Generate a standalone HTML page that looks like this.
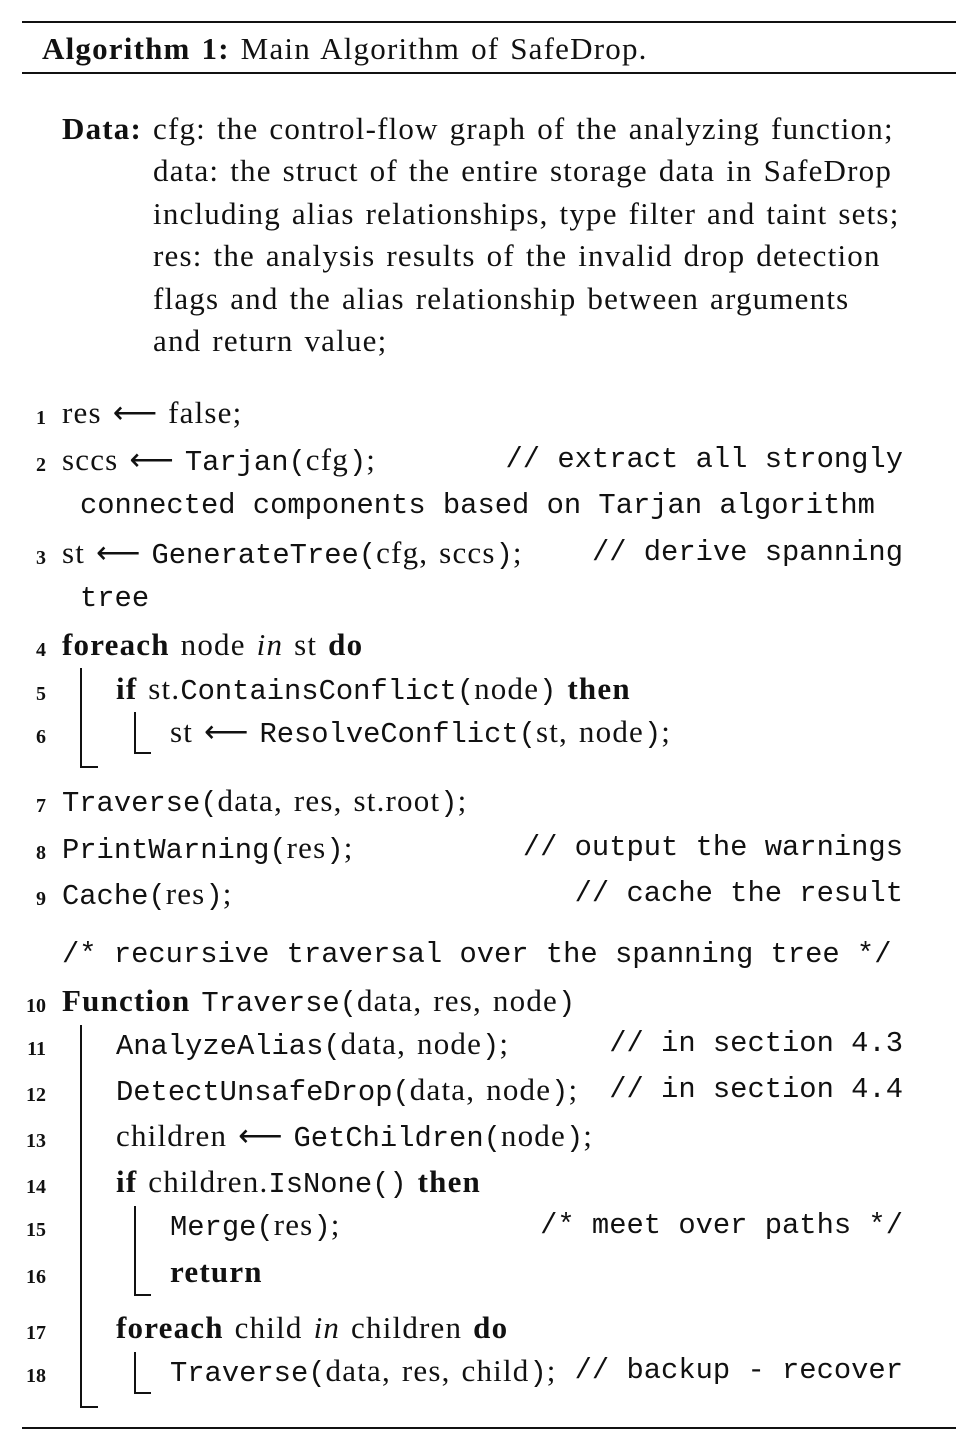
<!DOCTYPE html>
<html><head><meta charset="utf-8"><style>
body{margin:0;width:966px;height:1448px;background:#fff;position:relative;overflow:hidden;color:#111}
.l{position:absolute;white-space:pre;font-family:"Liberation Serif",serif;font-size:31px;line-height:1;letter-spacing:1.2px;word-spacing:2px;margin-top:3px}
.m{font-family:"Liberation Mono",monospace;font-size:28.8px;letter-spacing:0;word-spacing:0}
.a{letter-spacing:0;word-spacing:0}
.n{position:absolute;font-family:"Liberation Serif",serif;font-size:20px;font-weight:bold;line-height:1;text-align:right;width:26px;left:20px;margin-top:3px}
.r{position:absolute;right:63px;white-space:pre;font-family:"Liberation Mono",monospace;font-size:28.8px;line-height:1;margin-top:3px}
.rule{position:absolute;left:22px;width:934px;background:#111}
.v{position:absolute;width:2px;background:#111}
.h{position:absolute;height:2px;background:#111}
b{font-weight:bold}
</style></head><body>
<div class="rule" style="top:21px;height:2px"></div>
<div class="rule" style="top:72px;height:2px"></div>
<div class="rule" style="top:1427px;height:2px"></div>
<div class="l" style="left:42px;top:30px"><b>Algorithm 1:</b> Main Algorithm of SafeDrop.</div>

<div class="l" style="left:62px;top:110px"><b>Data:</b> cfg: the control-flow graph of the analyzing function;</div>
<div class="l" style="left:153px;top:152px">data: the struct of the entire storage data in SafeDrop</div>
<div class="l" style="left:153px;top:195px">including alias relationships, type filter and taint sets;</div>
<div class="l" style="left:153px;top:237px">res: the analysis results of the invalid drop detection</div>
<div class="l" style="left:153px;top:280px">flags and the alias relationship between arguments</div>
<div class="l" style="left:153px;top:322px">and return value;</div>

<div class="n" style="top:405px">1</div><div class="l" style="left:62px;top:394px">res <span class="a">⟵</span> false;</div>
<div class="n" style="top:452px">2</div><div class="l" style="left:62px;top:441px">sccs <span class="a">⟵</span> <span class="m">Tarjan(</span>cfg<span class="m">)</span>;</div>
<div class="r" style="top:443px">// extract all strongly</div>
<div class="l m" style="left:80px;top:489px">connected components based on Tarjan algorithm</div>
<div class="n" style="top:545px">3</div><div class="l" style="left:62px;top:534px">st <span class="a">⟵</span> <span class="m">GenerateTree(</span>cfg, sccs<span class="m">)</span>;</div>
<div class="r" style="top:536px">// derive spanning</div>
<div class="l m" style="left:80px;top:582px">tree</div>
<div class="n" style="top:637px">4</div><div class="l" style="left:62px;top:626px"><b>foreach</b> node <i>in</i> st <b>do</b></div>
<div class="n" style="top:681px">5</div><div class="l" style="left:116px;top:670px"><b>if</b> st.<span class="m">ContainsConflict(</span>node<span class="m">)</span> <b>then</b></div>
<div class="n" style="top:724px">6</div><div class="l" style="left:170px;top:713px">st <span class="a">⟵</span> <span class="m">ResolveConflict(</span>st, node<span class="m">)</span>;</div>
<div class="v" style="left:80px;top:668px;height:100px"></div><div class="h" style="left:80px;top:766px;width:18px"></div>
<div class="v" style="left:134px;top:712px;height:42px"></div><div class="h" style="left:134px;top:752px;width:17px"></div>

<div class="n" style="top:793px">7</div><div class="l" style="left:62px;top:782px"><span class="m">Traverse(</span>data, res, st.root<span class="m">)</span>;</div>
<div class="n" style="top:840px">8</div><div class="l" style="left:62px;top:829px"><span class="m">PrintWarning(</span>res<span class="m">)</span>;</div>
<div class="r" style="top:831px">// output the warnings</div>
<div class="n" style="top:886px">9</div><div class="l" style="left:62px;top:875px"><span class="m">Cache(</span>res<span class="m">)</span>;</div>
<div class="r" style="top:877px">// cache the result</div>
<div class="l m" style="left:62px;top:938px">/* recursive traversal over the spanning tree */</div>

<div class="n" style="top:993px">10</div><div class="l" style="left:62px;top:982px"><b>Function</b> <span class="m">Traverse(</span>data, res, node<span class="m">)</span></div>
<div class="n" style="top:1036px">11</div><div class="l" style="left:116px;top:1025px"><span class="m">AnalyzeAlias(</span>data, node<span class="m">)</span>;</div>
<div class="r" style="top:1027px">// in section 4.3</div>
<div class="n" style="top:1082px">12</div><div class="l" style="left:116px;top:1071px"><span class="m">DetectUnsafeDrop(</span>data, node<span class="m">)</span>;</div>
<div class="r" style="top:1073px">// in section 4.4</div>
<div class="n" style="top:1128px">13</div><div class="l" style="left:116px;top:1117px">children <span class="a">⟵</span> <span class="m">GetChildren(</span>node<span class="m">)</span>;</div>
<div class="n" style="top:1174px">14</div><div class="l" style="left:116px;top:1163px"><b>if</b> children.<span class="m">IsNone()</span> <b>then</b></div>
<div class="n" style="top:1217px">15</div><div class="l" style="left:170px;top:1206px"><span class="m">Merge(</span>res<span class="m">)</span>;</div>
<div class="r" style="top:1209px">/* meet over paths */</div>
<div class="n" style="top:1264px">16</div><div class="l" style="left:170px;top:1253px"><b>return</b></div>
<div class="n" style="top:1320px">17</div><div class="l" style="left:116px;top:1309px"><b>foreach</b> child <i>in</i> children <b>do</b></div>
<div class="n" style="top:1363px">18</div><div class="l" style="left:170px;top:1352px"><span class="m">Traverse(</span>data, res, child<span class="m">)</span>;</div>
<div class="r" style="top:1354px">// backup - recover</div>
<div class="v" style="left:80px;top:1025px;height:383px"></div><div class="h" style="left:80px;top:1406px;width:18px"></div>
<div class="v" style="left:134px;top:1206px;height:90px"></div><div class="h" style="left:134px;top:1294px;width:17px"></div>
<div class="v" style="left:134px;top:1352px;height:42px"></div><div class="h" style="left:134px;top:1392px;width:17px"></div>
</body></html>
